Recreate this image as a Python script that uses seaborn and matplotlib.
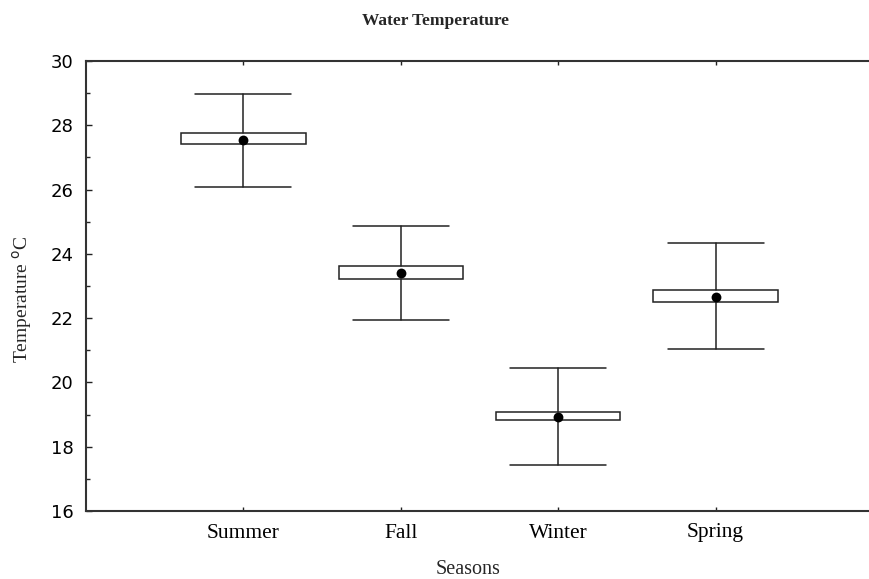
import matplotlib
matplotlib.use("Agg")
import matplotlib.pyplot as plt
import seaborn as sns
from matplotlib.ticker import MultipleLocator

# values (mean, box = +/- SE, whiskers = +/- SD)
seasons = ["Summer", "Fall", "Winter", "Spring"]
means = [27.54, 23.40, 18.93, 22.67]
box_low = [27.42, 23.21, 18.84, 22.51]
box_high = [27.76, 23.62, 19.07, 22.88]
whisk_low = [26.08, 21.93, 17.44, 21.03]
whisk_high = [28.97, 24.88, 20.45, 24.33]

sns.set_style("white")
plt.rcParams['font.family'] = ['Liberation Serif', 'DejaVu Serif']

fig = plt.figure(figsize=(8.7, 5.79), dpi=100)
ax = fig.add_axes([86 / 870, 1 - 511 / 579, 787 / 870, 450 / 579])

positions = list(range(1, len(seasons) + 1))
stats = []
for i, name in enumerate(seasons):
    stats.append({
        "label": name,
        "med": means[i],
        "q1": box_low[i],
        "q3": box_high[i],
        "whislo": whisk_low[i],
        "whishi": whisk_high[i],
        "fliers": [],
    })

lw = 1.1
ax.bxp(stats, positions=positions, widths=0.79, capwidths=0.61,
       showfliers=False, patch_artist=True,
       boxprops=dict(facecolor="white", edgecolor="#222222", linewidth=lw),
       whiskerprops=dict(color="#222222", linewidth=lw),
       capprops=dict(color="#222222", linewidth=lw),
       medianprops=dict(linewidth=0))

sns.scatterplot(x=positions, y=means, ax=ax, color="black", s=50,
                edgecolor="black", linewidth=0, zorder=5)

ax.set_xlim(0, 5)
ax.set_ylim(16, 30)
ax.set_xticks(positions)
ax.set_xticklabels(seasons, fontsize=15.5)
ax.yaxis.set_major_locator(MultipleLocator(2))
ax.yaxis.set_minor_locator(MultipleLocator(1))
for lab in ax.get_yticklabels():
    lab.set_family(['DejaVu Sans'])
    lab.set_fontsize(13)

ax.tick_params(axis="y", which="major", direction="in", length=4, width=1,
               left=True, pad=9, colors="#222222")
ax.tick_params(axis="y", which="minor", direction="in", length=3, width=1, left=True)
ax.tick_params(axis="x", which="major", direction="in", length=3, width=1,
               bottom=True, top=True, pad=9, colors="#222222")
for lab in ax.get_xticklabels() + ax.get_yticklabels():
    lab.set_color("black")

for sp in ax.spines.values():
    sp.set_color("#333333")
    sp.set_linewidth(1.5)

fig.text(436 / 870, 1 - 21 / 579, "Water Temperature", ha="center", va="center",
         fontsize=12.5, fontweight="bold")
fig.text(468 / 870, 1 - 569 / 579, "Seasons", ha="center", va="center", fontsize=14.5)
fig.text(22 / 870, 1 - 299 / 579, r"Temperature $^{\mathrm{o}}$C", ha="center", va="center",
         rotation=90, fontsize=14)

fig.savefig("out.png", dpi=100)
